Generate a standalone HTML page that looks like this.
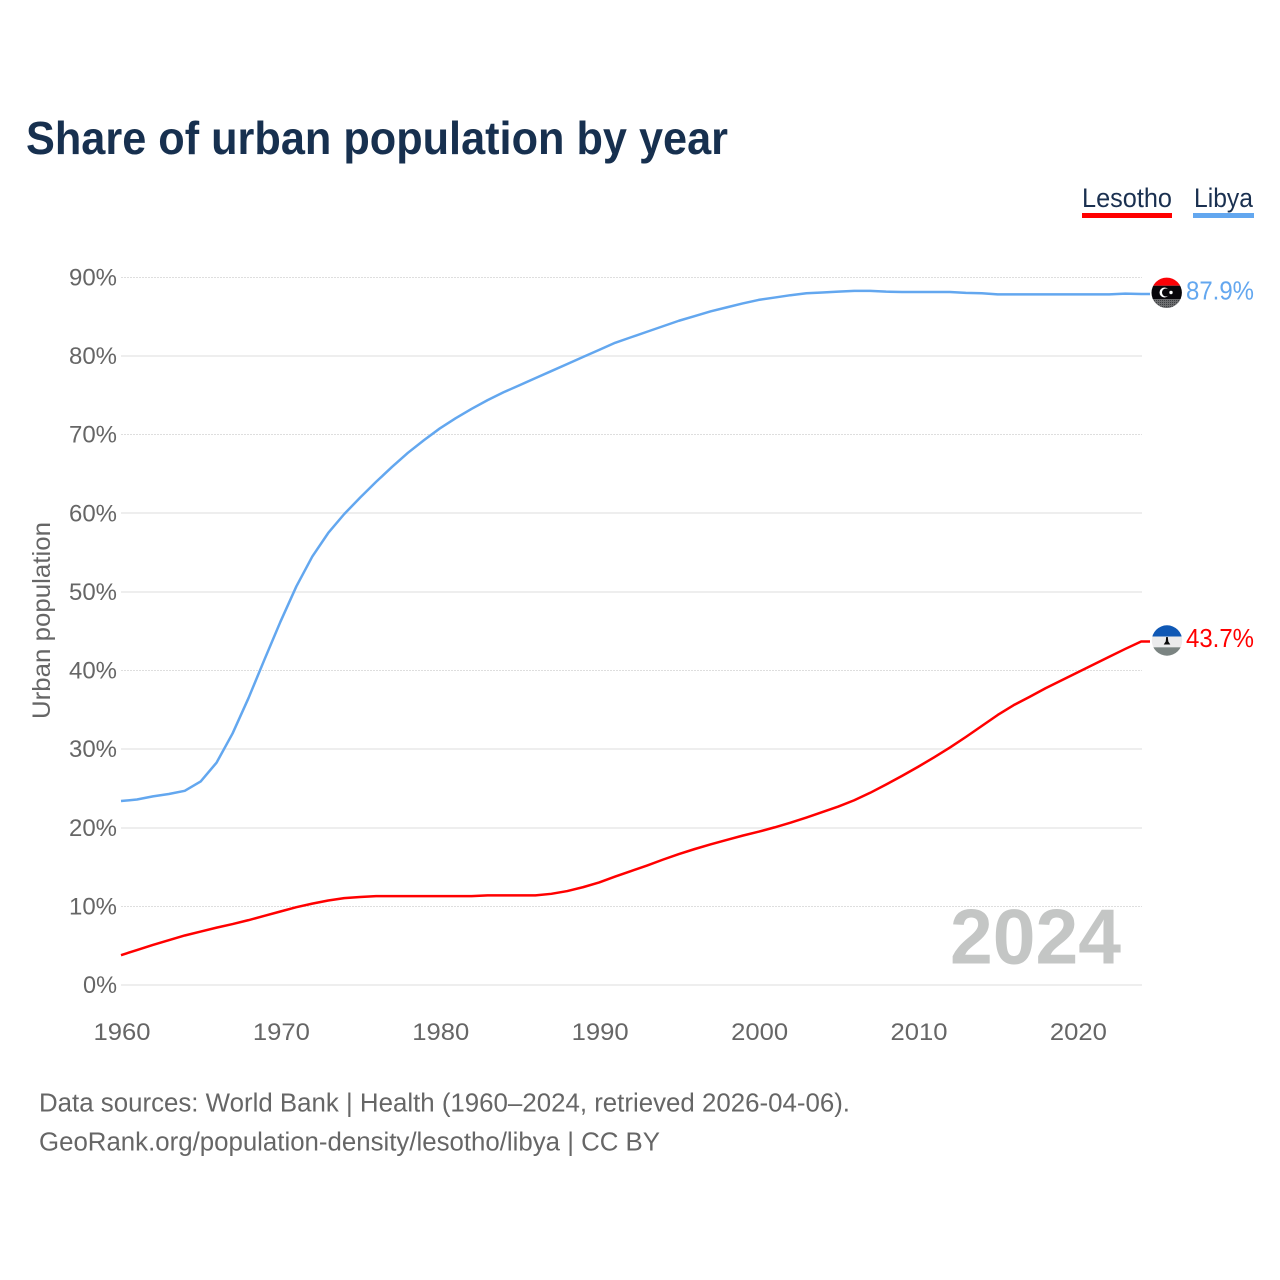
<!DOCTYPE html>
<html lang="en">
<head>
<meta charset="utf-8">
<title>Share of urban population by year</title>
<style>
  html, body { margin: 0; padding: 0; background: #fff; }
  svg { display: block; font-family: "Liberation Sans", sans-serif; }
</style>
</head>
<body>
<svg id="chart" width="1280" height="1280" viewBox="0 0 1280 1280" xmlns="http://www.w3.org/2000/svg">
  <rect x="0" y="0" width="1280" height="1280" fill="#ffffff"/>
  <text x="26" y="154" font-size="46" font-weight="700" fill="#17304f" textLength="702" lengthAdjust="spacingAndGlyphs">Share of urban population by year</text>

  <g>
    <g>
      <text x="1082" y="207" font-size="26.5" fill="#1a3050" textLength="90" lengthAdjust="spacingAndGlyphs">Lesotho</text>
      <rect x="1082" y="213" width="90" height="5" fill="#ff0000"/>
    </g>
    <g>
      <text x="1194" y="207" font-size="26.5" fill="#1a3050" textLength="59" lengthAdjust="spacingAndGlyphs">Libya</text>
      <rect x="1193" y="213" width="61" height="5" fill="#63a7ef"/>
    </g>
  </g>

  <g id="grid"></g>
  <g id="y-ticks"></g>
  <g id="x-ticks"></g>

  <text transform="translate(50,620.5) rotate(-90)" text-anchor="middle" font-size="25" fill="#666666" textLength="197" lengthAdjust="spacingAndGlyphs">Urban population</text>

  <text x="950" y="963.5" font-size="78" font-weight="700" fill="#c4c6c5" textLength="171" lengthAdjust="spacingAndGlyphs">2024</text>

  <g id="series"></g>

  <defs>
    <clipPath id="flag-clip-libya"><circle cx="1166.7" cy="292.8" r="15.2"/></clipPath>
    <clipPath id="flag-clip-lesotho"><circle cx="1167" cy="640.5" r="15.2"/></clipPath>
    <pattern id="flag-dots" width="2" height="2" patternUnits="userSpaceOnUse">
      <rect width="2" height="2" fill="#6d6e70"/>
      <rect width="1" height="1" fill="#3d3f42"/>
    </pattern>
  </defs>

  <g clip-path="url(#flag-clip-libya)">
    <rect x="1150" y="277" width="34" height="8.7" fill="#fb0207"/>
    <rect x="1150" y="285.7" width="34" height="13.6" fill="#08060a"/>
    <rect x="1150" y="299.3" width="34" height="10" fill="url(#flag-dots)"/>
    <circle cx="1164.5" cy="292.5" r="5" fill="#ffffff"/>
    <circle cx="1166" cy="292.5" r="4" fill="#08060a"/>
    <circle cx="1171" cy="292.5" r="1.7" fill="#ffffff"/>
  </g>

  <g clip-path="url(#flag-clip-lesotho)">
    <rect x="1150" y="625" width="34" height="11.5" fill="#0f58b5"/>
    <rect x="1150" y="636.5" width="34" height="10.8" fill="#ebebec"/>
    <rect x="1150" y="647.3" width="34" height="10" fill="#7b8482"/>
    <path d="M1166.2 637h1.6l.5 4.5 2 3h-6.6l2-3z" fill="#0a0a0a"/>
  </g>

  <text id="label-libya" x="1186" y="299.5" font-size="25.5" fill="#63a7ef" textLength="68" lengthAdjust="spacingAndGlyphs"></text>
  <text id="label-lesotho" x="1186" y="647" font-size="25.5" fill="#ff0000" textLength="68" lengthAdjust="spacingAndGlyphs"></text>

  <text x="39" y="1111.5" font-size="25.5" fill="#666666" textLength="811" lengthAdjust="spacingAndGlyphs">Data sources: World Bank | Health (1960–2024, retrieved 2026-04-06).</text>
  <text x="39" y="1150.5" font-size="25.5" fill="#666666" textLength="621" lengthAdjust="spacingAndGlyphs">GeoRank.org/population-density/lesotho/libya | CC BY</text>
</svg>

<script>
const startYear = 1960;
const yTickValues = [0, 10, 20, 30, 40, 50, 60, 70, 80, 90];
const xTickValues = [1960, 1970, 1980, 1990, 2000, 2010, 2020];
const libyaValues = [
  23.4, 23.6, 24.0, 24.3, 24.7, 25.9, 28.3, 32.0, 36.5, 41.4,
  46.2, 50.7, 54.5, 57.5, 59.9, 62.0, 64.0, 65.9, 67.7, 69.3,
  70.8, 72.1, 73.3, 74.4, 75.4, 76.3, 77.2, 78.1, 79.0, 79.9,
  80.8, 81.7, 82.4, 83.1, 83.8, 84.5, 85.1, 85.7, 86.2, 86.7,
  87.15, 87.45, 87.75, 88.0, 88.1, 88.2, 88.3, 88.3, 88.2, 88.15,
  88.15, 88.15, 88.15, 88.05, 88.0, 87.85, 87.85, 87.85, 87.85, 87.85,
  87.85, 87.85, 87.85, 87.95, 87.9
];
const lesothoValues = [
  3.8, 4.45, 5.1, 5.7, 6.3, 6.8, 7.3, 7.75, 8.25, 8.8,
  9.35, 9.9, 10.35, 10.75, 11.05, 11.2, 11.3, 11.3, 11.3, 11.3,
  11.3, 11.3, 11.3, 11.4, 11.4, 11.4, 11.4, 11.6, 11.95, 12.45,
  13.05, 13.8, 14.5, 15.2, 15.95, 16.65, 17.3, 17.9, 18.45, 19.0,
  19.5, 20.05, 20.65, 21.3, 22.0, 22.7, 23.5, 24.45, 25.5, 26.6,
  27.75, 28.95, 30.2, 31.55, 32.95, 34.35, 35.6, 36.65, 37.75, 38.75,
  39.75, 40.75, 41.75, 42.75, 43.7
];

const SVG_NS = 'http://www.w3.org/2000/svg';
function xScale(year) { return 121 + (year - 1960) * 15.94; }
function yScale(value) { return 985 - value * 7.861; }
function pathFor(values) {
  const pts = values.map(function (v, i) {
    return xScale(startYear + i).toFixed(2) + ',' + yScale(v).toFixed(2);
  });
  const last = values[values.length - 1];
  pts.push('1150,' + yScale(last).toFixed(2));
  return 'M' + pts.join('L');
}

const gridGroup = document.getElementById('grid');
const yGroup = document.getElementById('y-ticks');
yTickValues.forEach(function (t) {
  const thin = [10, 40, 70, 90].indexOf(t) !== -1;
  const y = yScale(t);
  const line = document.createElementNS(SVG_NS, 'line');
  
  
  line.setAttribute('x1', 121);
  line.setAttribute('x2', 1142);
  if (thin) {
    const py = Math.floor(y) + 0.5;
    line.setAttribute('y1', py);
    line.setAttribute('y2', py);
    line.setAttribute('stroke', '#dedede');
    line.setAttribute('stroke-width', 1);
    line.setAttribute('stroke-dasharray', '2 1');
  } else {
    const py = Math.round(y);
    line.setAttribute('y1', py);
    line.setAttribute('y2', py);
    line.setAttribute('stroke', '#eeeeee');
    line.setAttribute('stroke-width', 2);
  }
  gridGroup.appendChild(line);

  const label = document.createElementNS(SVG_NS, 'text');
  
  
  const str = t + '%';
  label.setAttribute('x', 117);
  label.setAttribute('y', y + 8);
  label.setAttribute('text-anchor', 'end');
  label.setAttribute('font-size', 24.5);
  label.setAttribute('fill', '#666666');
  label.setAttribute('textLength', (str.length - 1) * 14 + 20);
  label.setAttribute('lengthAdjust', 'spacingAndGlyphs');
  label.textContent = str;
  yGroup.appendChild(label);
});

const xGroup = document.getElementById('x-ticks');
xTickValues.forEach(function (t) {
  const label = document.createElementNS(SVG_NS, 'text');
  
  
  label.setAttribute('x', xScale(t) + 1);
  label.setAttribute('y', 1040);
  label.setAttribute('text-anchor', 'middle');
  label.setAttribute('font-size', 24.5);
  label.setAttribute('fill', '#666666');
  label.setAttribute('textLength', 57);
  label.setAttribute('lengthAdjust', 'spacingAndGlyphs');
  label.textContent = String(t);
  xGroup.appendChild(label);
});

const seriesGroup = document.getElementById('series');

const libyaLine = document.createElementNS(SVG_NS, 'path');


libyaLine.setAttribute('d', pathFor(libyaValues));
libyaLine.setAttribute('fill', 'none');
libyaLine.setAttribute('stroke', '#63a7ef');
libyaLine.setAttribute('stroke-width', 2.5);
libyaLine.setAttribute('stroke-linejoin', 'round');
seriesGroup.appendChild(libyaLine);

const lesothoLine = document.createElementNS(SVG_NS, 'path');


lesothoLine.setAttribute('d', pathFor(lesothoValues));
lesothoLine.setAttribute('fill', 'none');
lesothoLine.setAttribute('stroke', '#ff0000');
lesothoLine.setAttribute('stroke-width', 2.5);
lesothoLine.setAttribute('stroke-linejoin', 'round');
seriesGroup.appendChild(lesothoLine);

document.getElementById('label-libya').textContent = libyaValues[libyaValues.length - 1].toFixed(1) + '%';
document.getElementById('label-lesotho').textContent = lesothoValues[lesothoValues.length - 1].toFixed(1) + '%';
</script>
</body>
</html>
